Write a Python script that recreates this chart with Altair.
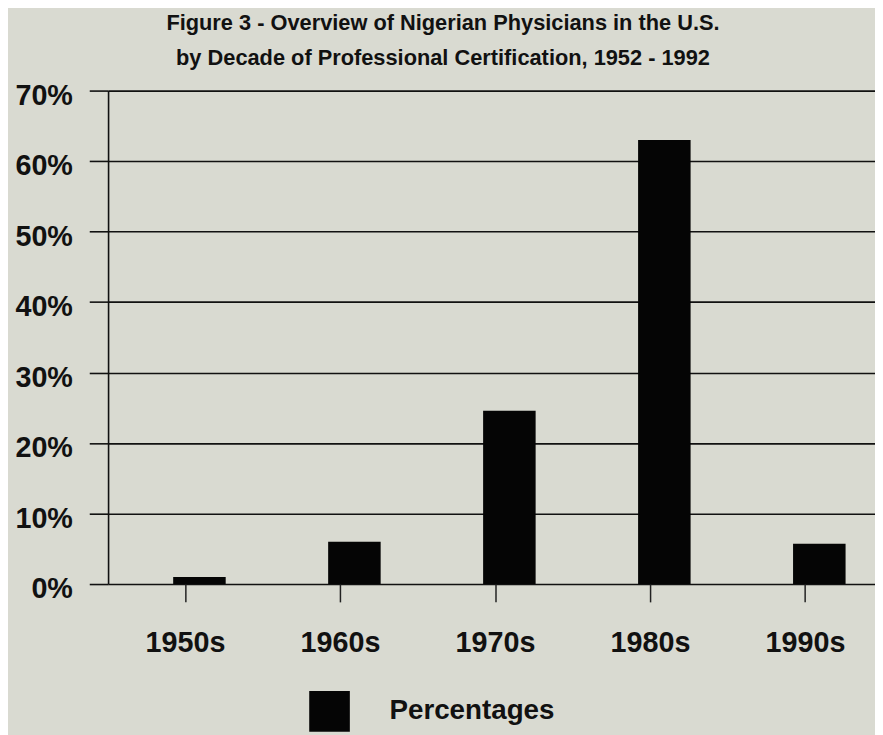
import altair as alt
import pandas as pd

decades = ["1950s", "1960s", "1970s", "1980s", "1990s"]
percentages = [1.0, 6.0, 24.6, 63.0, 5.7]
series_name = "Percentages"
y_ticks = [0, 0.1, 0.2, 0.3, 0.4, 0.5, 0.6, 0.7]
title_lines = [
    "Figure 3 - Overview of Nigerian Physicians in the U.S.",
    "by Decade of Professional Certification, 1952 - 1992",
]

df = pd.DataFrame({
    "decade": decades,
    "value": [p / 100 for p in percentages],
    "series": [series_name] * len(decades),
})

FONT = "Liberation Sans"
BG = "#d9dad1"

chart = (
    alt.Chart(df)
    .mark_bar(size=53, xOffset=14)
    .encode(
        x=alt.X(
            "decade:N",
            sort=decades,
            scale=alt.Scale(range=[0, 782], paddingInner=0, paddingOuter=0),
            axis=alt.Axis(
                title=None,
                labelAngle=0,
                labelFont=FONT,
                labelFontSize=29,
                labelFontWeight="bold",
                labelColor="#111",
                labelPadding=27,
                tickSize=18,
                tickWidth=1.5,
                tickColor="#222",
                domain=False,
                grid=False,
            ),
        ),
        y=alt.Y(
            "value:Q",
            scale=alt.Scale(domain=[0, 0.7], nice=False),
            axis=alt.Axis(
                title=None,
                values=y_ticks,
                format=".0%",
                labelFont=FONT,
                labelFontSize=29,
                labelFontWeight="bold",
                labelColor="#111",
                labelPadding=17,
                labelOffset=5,
                tickSize=19,
                tickWidth=1.6,
                tickColor="#111",
                domainColor="#111",
                domainWidth=1.6,
                grid=True,
                gridColor="#111",
                gridWidth=1.6,
                gridOpacity=1,
            ),
        ),
        color=alt.Color(
            "series:N",
            scale=alt.Scale(range=["#050505"]),
            legend=alt.Legend(
                title=None,
                orient="none",
                legendX=203,
                legendY=606,
                symbolType="square",
                symbolSize=1681,
                symbolStrokeWidth=0,
                symbolOpacity=1,
                labelFont=FONT,
                labelFontSize=28,
                labelFontWeight="bold",
                labelColor="#111",
                labelOffset=40,
                labelLimit=0,
                padding=0,
            ),
        ),
    )
    .properties(
        width=774,
        height=498,
        title=alt.Title(
            text=title_lines,
            font=FONT,
            fontSize=22,
            fontWeight="bold",
            color="#111",
            lineHeight=35,
            anchor="middle",
            frame="group",
            dx=-49,
            offset=12,
        ),
        background=BG,
        padding={"left": 101, "top": 80, "right": 0, "bottom": 149},
        autosize=alt.AutoSizeParams(type="none"),
    )
    .configure_view(strokeWidth=0)
)

chart.save("out.html", embed_options={"renderer": "svg", "actions": False})
